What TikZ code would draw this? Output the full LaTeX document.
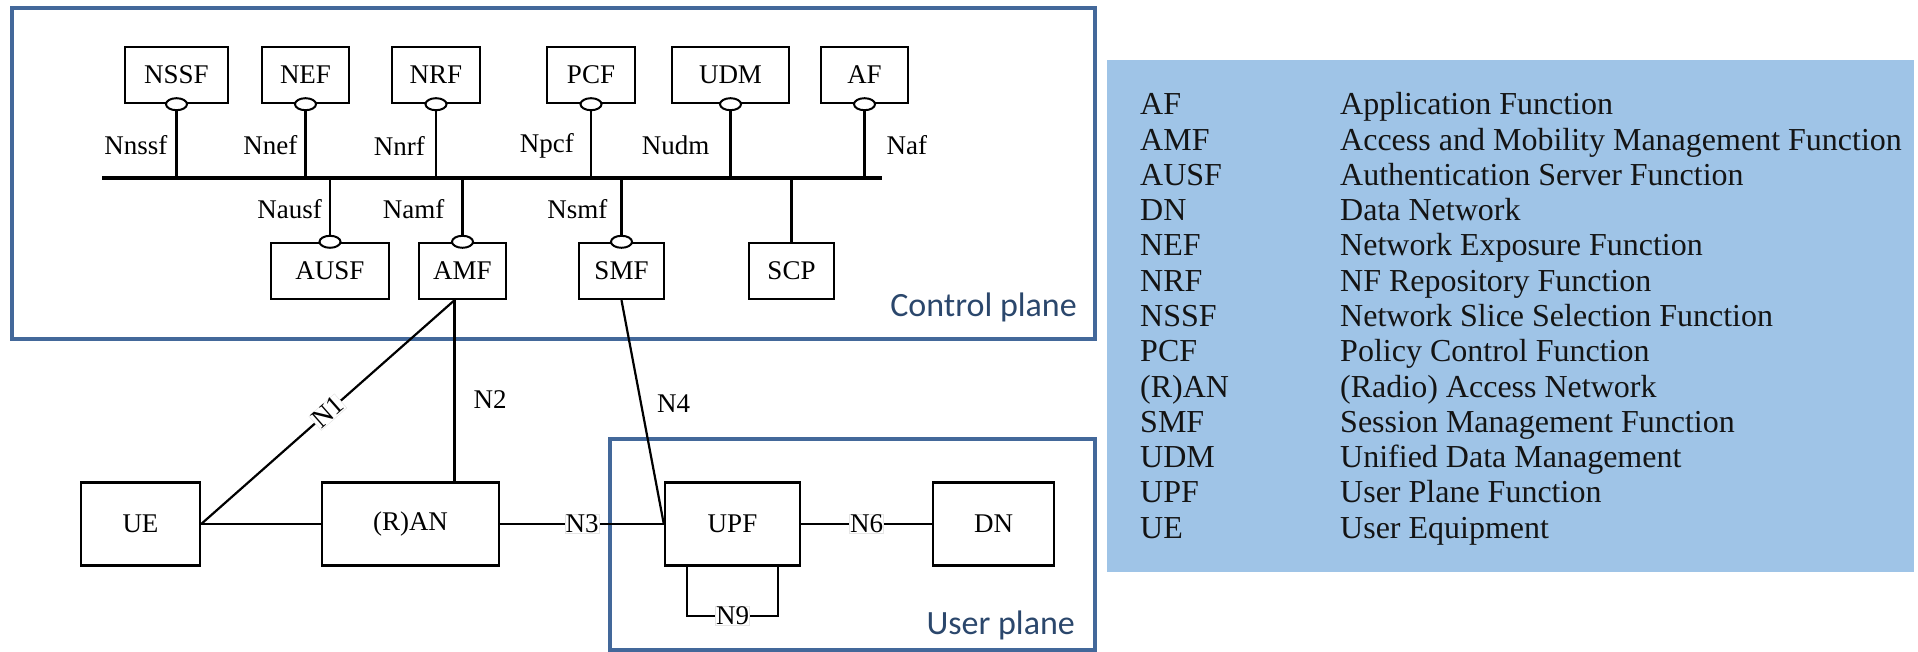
\documentclass[tikz,border=0pt]{standalone}
\usepackage{fontspec}
\setmainfont{Liberation Serif}
\newfontfamily\planefont{Carlito}
\usetikzlibrary{positioning,shapes.geometric,calc}
\definecolor{CPBlue}{HTML}{43689A}
\definecolor{CPText}{HTML}{2B476C}
\definecolor{CPLegend}{HTML}{9FC4E7}
\definecolor{CPInk}{HTML}{141414}
\tikzset{
  nf/.style={draw,line width=2.4pt,inner sep=0pt,minimum height=56pt,
             font=\fontsize{27}{32}\selectfont},
  port/.style={ellipse,draw,fill=white,line width=2pt,minimum width=21pt,
               minimum height=12pt,inner sep=0pt},
  link/.style={line width=2.2pt},
  bus/.style={line width=3.2pt},
  iface/.style={font=\fontsize{27}{32}\selectfont,inner sep=1pt},
  tag/.style={iface,fill=white,draw=black!10,line width=0.5pt,inner sep=0.5pt},
  plane/.style={draw=CPBlue,line width=4pt},
  planelabel/.style={text=CPText,font=\planefont\fontsize{34}{40}\selectfont,inner sep=0pt},
  legtext/.style={text=CPInk,font=\fontsize{32}{36}\selectfont,anchor=base west,inner sep=0pt},
}

\begin{document}
\begin{tikzpicture}[x=1pt,y=-1pt]
  \useasboundingbox (0,0) rectangle (1918,652);

  % planes
  \node[plane,minimum width=1083pt,minimum height=331pt] (cplane) at (553.5,173.5) {};
  \node[plane,minimum width=485pt,minimum height=211pt] (uplane) at (852.5,544.5) {};
  \node[planelabel,anchor=east] (cplabel) at (1077,307) {Control plane};
  \node[planelabel,anchor=east] (uplabel) at (1075,625) {User plane};

  % service based functions
  \node[nf,minimum width=103pt] (NSSF) at (176.5,75) {NSSF};
  \node[nf,minimum width=87pt] (NEF) at (305.5,75) {NEF};
  \node[nf,minimum width=88pt] (NRF) at (436,75) {NRF};
  \node[nf,minimum width=88pt] (PCF) at (591,75) {PCF};
  \node[nf,minimum width=117pt] (UDM) at (730.5,75) {UDM};
  \node[nf,minimum width=87pt] (AF) at (864.5,75) {AF};

  \node[nf,minimum width=118pt] (AUSF) at (330,271) {AUSF};
  \node[nf,minimum width=87pt] (AMF) at (462.5,271) {AMF};
  \node[nf,minimum width=85pt] (SMF) at (621.5,271) {SMF};
  \node[nf,minimum width=85pt] (SCP) at (791.5,271) {SCP};

  \coordinate (busL) at (102,178);
  \coordinate (busR) at (882,178);
  \draw[bus] (busL) -- (busR);

  \draw[link] (NSSF.south) -- node[iface,left=7pt,pos=.56] {Nnssf} (NSSF.south |- busL);
  \draw[link] (NEF.south) -- node[iface,left=6pt,pos=.56] {Nnef} (NEF.south |- busL);
  \draw[link] (NRF.south) -- node[iface,left=9pt,pos=.56] {Nnrf} (NRF.south |- busL);
  \draw[link] (PCF.south) -- node[iface,left=15pt,pos=.56] {Npcf} (PCF.south |- busL);
  \draw[link] (UDM.south) -- node[iface,left=19pt,pos=.56] {Nudm} (UDM.south |- busL);
  \draw[link] (AF.south) -- node[iface,right=20pt,pos=.56] {Naf} (AF.south |- busL);

  \draw[link] (AUSF.north |- busL) -- node[iface,left=6pt,pos=.49] {Nausf} (AUSF.north);
  \draw[link] (AMF.north |- busL) -- node[iface,left=16pt,pos=.49] {Namf} (AMF.north);
  \draw[link] (SMF.north |- busL) -- node[iface,left=12pt,pos=.49] {Nsmf} (SMF.north);
  \draw[link] (SCP.north |- busL) -- (SCP.north);

  \node[port] (NSSFport) at (NSSF.south) {};
  \node[port] (NEFport) at (NEF.south) {};
  \node[port] (NRFport) at (NRF.south) {};
  \node[port] (PCFport) at (PCF.south) {};
  \node[port] (UDMport) at (UDM.south) {};
  \node[port] (AFport) at (AF.south) {};
  \node[port] (AUSFport) at (AUSF.north) {};
  \node[port] (AMFport) at (AMF.north) {};
  \node[port] (SMFport) at (SMF.north) {};

  % access and user plane
  \node[nf,minimum width=119pt,minimum height=83pt] (UE) at (140.5,524) {UE};
  \node[nf,minimum width=177pt,minimum height=83pt] (RAN) at (410.5,524) {(R)AN};
  \node[nf,minimum width=135pt,minimum height=83pt] (UPF) at (732.5,524) {UPF};
  \node[nf,minimum width=121pt,minimum height=83pt] (DN) at (993.5,524) {DN};

  \coordinate (amfN) at ([xshift=-8pt]AMF.south);
  \draw[link] (UE.east) -- node[tag,sloped] {N1} (amfN);
  \draw[link] (amfN) -- node[iface,right=17pt,pos=.55] {N2} (amfN |- RAN.north);
  \draw[link] (UE.east) -- (RAN.west);
  \draw[link] (RAN.east) -- node[tag] {N3} (UPF.west);
  \draw[link] (SMF.south) -- node[iface,right=14pt,pos=.46] {N4} (UPF.west);
  \draw[link] (UPF.east) -- node[tag] {N6} (DN.west);
  \draw[link] ([xshift=23pt]UPF.south west) -- ++(0,49)
    -| node[tag,pos=.25] {N9} ([xshift=-23pt]UPF.south east);

  % abbreviations
  \node[fill=CPLegend,minimum width=807pt,minimum height=512pt,inner sep=0pt] (legend) at (1510.5,316) {};
  \node[legtext] (abAF) at (1140,115) {AF};
  \node[legtext] (abAMF) at (1140,150.25) {AMF};
  \node[legtext] (abAUSF) at (1140,185.5) {AUSF};
  \node[legtext] (abDN) at (1140,220.75) {DN};
  \node[legtext] (abNEF) at (1140,256) {NEF};
  \node[legtext] (abNRF) at (1140,291.25) {NRF};
  \node[legtext] (abNSSF) at (1140,326.5) {NSSF};
  \node[legtext] (abPCF) at (1140,361.75) {PCF};
  \node[legtext] (abRAN) at (1140,397) {(R)AN};
  \node[legtext] (abSMF) at (1140,432.25) {SMF};
  \node[legtext] (abUDM) at (1140,467.5) {UDM};
  \node[legtext] (abUPF) at (1140,502.75) {UPF};
  \node[legtext] (abUE) at (1140,538) {UE};

  \node[legtext] (fullAF) at (1340,115) {Application Function};
  \node[legtext] (fullAMF) at (1340,150.25) {Access and Mobility Management Function};
  \node[legtext] (fullAUSF) at (1340,185.5) {Authentication Server Function};
  \node[legtext] (fullDN) at (1340,220.75) {Data Network};
  \node[legtext] (fullNEF) at (1340,256) {Network Exposure Function};
  \node[legtext] (fullNRF) at (1340,291.25) {NF Repository Function};
  \node[legtext] (fullNSSF) at (1340,326.5) {Network Slice Selection Function};
  \node[legtext] (fullPCF) at (1340,361.75) {Policy Control Function};
  \node[legtext] (fullRAN) at (1340,397) {(Radio) Access Network};
  \node[legtext] (fullSMF) at (1340,432.25) {Session Management Function};
  \node[legtext] (fullUDM) at (1340,467.5) {Unified Data Management};
  \node[legtext] (fullUPF) at (1340,502.75) {User Plane Function};
  \node[legtext] (fullUE) at (1340,538) {User Equipment};
\end{tikzpicture}
\end{document}
